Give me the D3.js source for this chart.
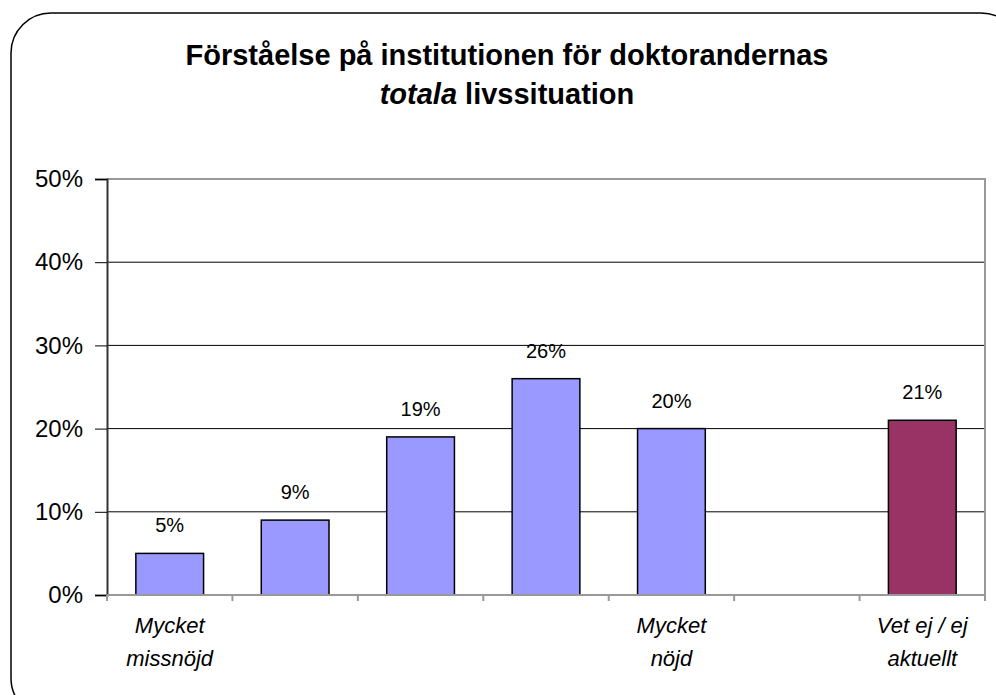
<!DOCTYPE html>
<html lang="sv">
<head>
<meta charset="utf-8" />
<title>Förståelse på institutionen</title>
<script src="https://d3js.org/d3.v7.min.js"></script>
<style>
  body { margin: 0; background: #fff; }
  svg text { font-family: "Liberation Sans", Arial, sans-serif; }
</style>
</head>
<body>
<svg width="996" height="695"></svg>
<script>
// chart data
var categories = ["c1", "c2", "c3", "c4", "c5", "c6", "c7"];
var values = [5, 9, 19, 26, 20, null, 21];
var barColors = ["#9999ff", "#9999ff", "#9999ff", "#9999ff", "#9999ff", "none", "#993366"];
var catLabels = [["Mycket", "missnöjd"], [], [], [], ["Mycket", "nöjd"], [], ["Vet ej / ej", "aktuellt"]];
var yTicks = [0, 10, 20, 30, 40, 50];

var svg = d3.select("svg");

// rounded outer frame (runs off the right / bottom edge)
svg.append("rect")
  .attr("x", 11).attr("y", 13)
  .attr("width", 1010).attr("height", 705)
  .attr("rx", 40).attr("ry", 40)
  .attr("fill", "none")
  .attr("stroke", "#000")
  .attr("stroke-width", 1.5);

// title
var title = svg.append("text")
  .attr("text-anchor", "middle")
  .attr("font-size", 29)
  .attr("font-weight", "bold");
title.append("tspan").attr("x", 507).attr("y", 65)
  .text("Förståelse på institutionen för doktorandernas");
var l2 = title.append("tspan").attr("x", 507).attr("y", 104);
l2.append("tspan").attr("font-style", "italic").text("totala");
l2.append("tspan").text(" livssituation");

var plotLeft = 107, plotRight = 985, plotTop = 179, plotBottom = 595;

var x = d3.scaleBand().domain(categories).range([plotLeft, plotRight]).paddingInner(0.46).paddingOuter(0.23);
var y = d3.scaleLinear().domain([0, 50]).range([plotBottom, plotTop]);

// gridlines
svg.append("g")
  .selectAll("line")
  .data(yTicks.filter(function (d) { return d > 0 && d < 50; }))
  .enter().append("line")
  .attr("x1", plotLeft).attr("x2", plotRight)
  .attr("y1", function (d) { return y(d); })
  .attr("y2", function (d) { return y(d); })
  .attr("stroke", "#000")
  .attr("stroke-width", 1);

// gray border top / right
svg.append("path")
  .attr("d", "M" + plotLeft + "," + y(50) + "H" + plotRight + "V" + plotBottom)
  .attr("fill", "none")
  .attr("stroke", "#999")
  .attr("stroke-width", 2);

// bars
var barData = categories.map(function (c, i) { return { c: c, v: values[i], col: barColors[i] }; })
  .filter(function (d) { return d.v != null; });

svg.append("g")
  .selectAll("rect")
  .data(barData)
  .enter().append("rect")
  .attr("x", function (d) { return x(d.c); })
  .attr("width", x.bandwidth())
  .attr("y", function (d) { return y(d.v); })
  .attr("height", function (d) { return y(0) - y(d.v); })
  .attr("fill", function (d) { return d.col; })
  .attr("stroke", "#000")
  .attr("stroke-width", 1.5);

// value labels
svg.append("g")
  .selectAll("text")
  .data(barData)
  .enter().append("text")
  .attr("x", function (d) { return x(d.c) + x.bandwidth() / 2; })
  .attr("y", function (d) { return y(d.v) - 21; })
  .attr("text-anchor", "middle")
  .attr("font-size", 20)
  .text(function (d) { return d.v + "%"; });

// y axis
var yAxis = svg.append("g")
  .attr("transform", "translate(" + plotLeft + ",0)")
  .call(d3.axisLeft(y).tickValues(yTicks).tickSize(12).tickPadding(12)
    .tickFormat(function (d) { return d + "%"; }));
yAxis.select(".domain").attr("stroke", "#333").attr("stroke-width", 2);
yAxis.selectAll(".tick line").attr("stroke", "#000");
yAxis.selectAll("text")
  .attr("font-size", 24)
  .attr("fill", "#000")
  .attr("font-family", "Liberation Sans, Arial, sans-serif");

// x axis with ticks at category boundaries
var boundaries = categories.map(function (c) { return x(c) - x.step() * x.paddingInner() / 2; }).concat([plotRight]);
svg.append("line")
  .attr("x1", plotLeft).attr("x2", plotRight)
  .attr("y1", plotBottom).attr("y2", plotBottom)
  .attr("stroke", "#999").attr("stroke-width", 2);
svg.append("g")
  .selectAll("line")
  .data(boundaries)
  .enter().append("line")
  .attr("x1", function (d) { return d; }).attr("x2", function (d) { return d; })
  .attr("y1", plotBottom).attr("y2", plotBottom + 6)
  .attr("stroke", "#999").attr("stroke-width", 2);

// category labels
var cl = svg.append("g")
  .selectAll("text")
  .data(categories.map(function (c, i) { return { c: c, lines: catLabels[i] }; }))
  .enter().append("text")
  .attr("text-anchor", "middle")
  .attr("font-size", 22)
  .attr("font-style", "italic");
cl.each(function (d) {
  var t = d3.select(this);
  d.lines.forEach(function (s, j) {
    t.append("tspan")
      .attr("x", x(d.c) + x.bandwidth() / 2)
      .attr("y", 633 + j * 33)
      .text(s);
  });
});
</script>
</body>
</html>
